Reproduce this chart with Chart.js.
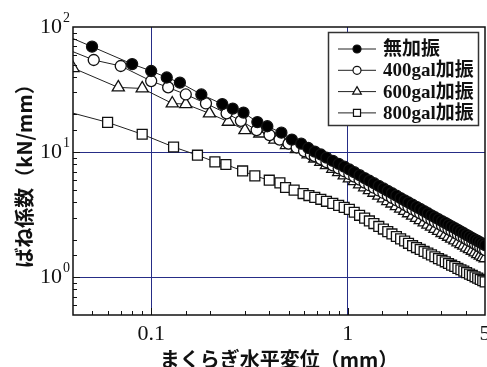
<!DOCTYPE html>
<html>
<head>
<meta charset="utf-8">
<script src="https://cdn.jsdelivr.net/npm/chart.js@4.4.1/dist/chart.umd.min.js"></script>
<style>
  html, body { margin: 0; padding: 0; background: #fff; }
</style>
</head>
<body>
<canvas id="bane" width="487" height="367"></canvas>
<script>
// ===== data =====
const seriesNames = ["無加振", "400gal加振", "600gal加振", "800gal加振"];

const xFilled = [0.03, 0.05, 0.08, 0.10, 0.12, 0.14, 0.18, 0.23, 0.26, 0.295, 0.347, 0.39, 0.46, 0.52, 0.58, 0.63,
    0.68, 0.73, 0.78, 0.84, 0.90, 0.96, 1.02, 1.08, 1.15, 1.22, 1.29, 1.36, 1.44, 1.52, 1.60, 1.68, 1.77, 1.86, 1.95,
    2.04, 2.14, 2.24, 2.34, 2.45, 2.56, 2.67, 2.78, 2.90, 3.02, 3.14, 3.26, 3.38, 3.51, 3.64, 3.77, 3.90, 4.03, 4.17,
    4.31, 4.45, 4.59, 4.73, 4.87, 5.01];
const yFilled = [98, 69.6, 50.6, 44.5, 39.5, 35.9, 28.9, 24.2, 22.3, 20.7, 17.4, 16.1, 14.3, 12.6, 11.7, 10.8,
    10.1, 9.58, 9.06, 8.53, 8.07, 7.65, 7.27, 6.92, 6.55, 6.21, 5.91, 5.65, 5.37, 5.13, 4.90, 4.70, 4.49, 4.30, 4.12,
    3.96, 3.80, 3.65, 3.52, 3.38, 3.25, 3.13, 3.02, 2.91, 2.81, 2.72, 2.63, 2.55, 2.47, 2.39, 2.32, 2.25, 2.18, 2.12,
    2.06, 2.00, 1.95, 1.90, 1.85, 1.81];

const xOpen = [0.03, 0.051, 0.070, 0.10, 0.122, 0.150, 0.19, 0.242, 0.286, 0.344, 0.40, 0.45, 0.50, 0.55, 0.60, 0.65,
    0.68, 0.73, 0.78, 0.84, 0.90, 0.96, 1.02, 1.08, 1.15, 1.22, 1.29, 1.36, 1.44, 1.52, 1.60, 1.68, 1.77, 1.86, 1.95,
    2.04, 2.14, 2.24, 2.34, 2.45, 2.56, 2.67, 2.78, 2.90, 3.02, 3.14, 3.26, 3.38, 3.51, 3.64, 3.77, 3.90, 4.03, 4.17,
    4.31, 4.45, 4.59, 4.73, 4.87, 5.01];
const yOpen = [76, 54.5, 48.8, 37.0, 32.9, 28.9, 24.5, 20.4, 17.8, 15.0, 13.7, 12.6, 11.7, 10.9, 10.2, 9.6,
    9.29, 8.81, 8.34, 7.85, 7.42, 7.04, 6.69, 6.37, 6.03, 5.71, 5.44, 5.20, 4.94, 4.72, 4.51, 4.32, 4.13, 3.96, 3.79,
    3.64, 3.50, 3.36, 3.24, 3.11, 2.99, 2.88, 2.78, 2.68, 2.59, 2.50, 2.42, 2.35, 2.27, 2.20, 2.13, 2.07, 2.01, 1.95,
    1.90, 1.84, 1.79, 1.74, 1.69, 1.65];

const xTri = [0.04, 0.068, 0.090, 0.128, 0.150, 0.198, 0.247, 0.30, 0.357, 0.426, 0.488, 0.549, 0.629,
    0.68, 0.73, 0.78, 0.84, 0.90, 0.96, 1.02, 1.08, 1.15, 1.22, 1.29, 1.36, 1.44, 1.52, 1.60, 1.68, 1.77, 1.86, 1.95,
    2.04, 2.14, 2.24, 2.34, 2.45, 2.56, 2.67, 2.78, 2.90, 3.02, 3.14, 3.26, 3.38, 3.51, 3.64, 3.77, 3.90, 4.03, 4.17,
    4.31, 4.45, 4.59, 4.73, 4.87, 5.01];
const yTri = [47, 32.9, 32.3, 24.5, 24.2, 20.4, 17.5, 15.0, 14.1, 12.6, 11.4, 10.6, 9.6,
    8.9, 8.36, 7.87, 7.36, 6.92, 6.53, 6.18, 5.86, 5.53, 5.24, 4.97, 4.74, 4.49, 4.27, 4.07, 3.89, 3.71, 3.54, 3.39,
    3.25, 3.11, 2.98, 2.86, 2.75, 2.64, 2.54, 2.44, 2.35, 2.26, 2.18, 2.11, 2.04, 1.97, 1.90, 1.84, 1.79, 1.73, 1.68,
    1.63, 1.58, 1.53, 1.49, 1.45, 1.42];

const xSq = [0.02, 0.060, 0.090, 0.130, 0.172, 0.211, 0.240, 0.292, 0.337, 0.399, 0.452, 0.483, 0.534, 0.593, 0.635,
    0.68, 0.73, 0.78, 0.84, 0.90, 0.96, 1.02, 1.08, 1.15, 1.22, 1.29, 1.36, 1.44, 1.52, 1.60, 1.68, 1.77, 1.86, 1.95,
    2.04, 2.14, 2.24, 2.34, 2.45, 2.56, 2.67, 2.78, 2.90, 3.02, 3.14, 3.26, 3.38, 3.51, 3.64, 3.77, 3.90, 4.03, 4.17,
    4.31, 4.45, 4.59, 4.73, 4.87, 5.01];
const ySq = [27.4, 17.3, 13.9, 11.0, 9.46, 8.37, 7.97, 7.08, 6.46, 5.97, 5.68, 5.22, 4.97, 4.67, 4.50,
    4.35, 4.20, 4.05, 3.90, 3.76, 3.62, 3.49, 3.31, 3.13, 2.97, 2.82, 2.69, 2.55, 2.43, 2.32, 2.22, 2.12, 2.03, 1.95,
    1.87, 1.79, 1.73, 1.67, 1.61, 1.56, 1.51, 1.46, 1.41, 1.37, 1.33, 1.29, 1.25, 1.22, 1.18, 1.15, 1.12, 1.09, 1.06,
    1.035, 1.01, 0.986, 0.962, 0.94, 0.92];

const xLabelTicks = [0.1, 1, 5];
const yLabelTicks = [1, 10, 100];
const yLabelExps = ["0", "1", "2"];

// ===== helpers =====
const navy = "#262d86";
const near = (a, b) => Math.abs(a - b) < 1e-9 * Math.max(1, b);
const isDecade = v => Math.abs(Math.log10(v) - Math.round(Math.log10(v))) < 1e-9;
const gridAt = v => near(v, 0.1) || near(v, 1) || near(v, 10);
const pts = (xs, ys) => xs.map((x, i) => ({x, y: ys[i]}));

const serif = "'Liberation Serif', 'DejaVu Serif', serif";
const jp = "'Noto Sans CJK JP', 'Noto Sans', sans-serif";

function serie(i, xs, ys, style, radius, fill) {
    return {
        label: seriesNames[i],
        data: pts(xs, ys),
        showLine: true,
        borderColor: "#222",
        borderWidth: 1,
        pointStyle: style,
        pointRadius: radius,
        pointBackgroundColor: fill,
        pointBorderColor: "#111",
        pointBorderWidth: 1.3
    };
}

// ticks hacia adentro + marco + etiquetas de ejes
const marco = {
    id: "marco",
    afterDatasetsDraw(chart) {
        const {ctx, chartArea: a, scales: {x, y}} = chart;
        ctx.save();
        ctx.strokeStyle = "#111";
        ctx.lineWidth = 1;
        ctx.beginPath();
        x.ticks.forEach(t => {
            const px = Math.round(x.getPixelForValue(t.value)) + 0.5;
            if (px <= a.left + 1 || px >= a.right - 1) return;
            const len = isDecade(t.value) ? 7 : 4;
            ctx.moveTo(px, a.bottom);
            ctx.lineTo(px, a.bottom - len);
        });
        y.ticks.forEach(t => {
            const py = Math.round(y.getPixelForValue(t.value)) + 0.5;
            if (py <= a.top + 1 || py >= a.bottom - 1) return;
            const len = isDecade(t.value) ? 7 : 4;
            ctx.moveTo(a.left, py);
            ctx.lineTo(a.left + len, py);
        });
        ctx.stroke();
        ctx.lineWidth = 1.5;
        ctx.strokeRect(a.left, a.top, a.right - a.left, a.bottom - a.top);

        // etiquetas
        ctx.fillStyle = "#111";
        ctx.textBaseline = "alphabetic";
        ctx.font = "22px " + serif;
        ctx.textAlign = "center";
        xLabelTicks.forEach(v => ctx.fillText(String(v), x.getPixelForValue(v), a.bottom + 25));
        yLabelTicks.forEach((v, i) => {
            const py = y.getPixelForValue(v);
            ctx.font = "14px " + serif;
            const ew = ctx.measureText(yLabelExps[i]).width;
            ctx.textAlign = "right";
            ctx.fillText(yLabelExps[i], a.left - 3, py - 5);
            ctx.font = "22px " + serif;
            ctx.fillText("10", a.left - 4 - ew, py + 6);
        });
        ctx.restore();
    }
};

// leyenda en recuadro
const leyenda = {
    id: "leyenda",
    afterDraw(chart) {
        const ctx = chart.ctx;
        const box = {x: 328.5, y: 32.5, w: 150, h: 93};
        ctx.save();
        ctx.fillStyle = "#fff";
        ctx.fillRect(box.x, box.y, box.w, box.h);
        ctx.strokeStyle = "#333";
        ctx.lineWidth = 1.5;
        ctx.strokeRect(box.x, box.y, box.w, box.h);
        chart.data.datasets.forEach((ds, i) => {
            const cy = 49 + i * 21.3;
            ctx.strokeStyle = "#222";
            ctx.lineWidth = 1;
            ctx.beginPath();
            ctx.moveTo(338, cy);
            ctx.lineTo(376, cy);
            ctx.stroke();
            ctx.fillStyle = ds.pointBackgroundColor;
            ctx.strokeStyle = "#111";
            ctx.lineWidth = 1.2;
            Chart.helpers.drawPoint(ctx, {
                pointStyle: ds.pointStyle,
                radius: ds.pointStyle === "circle" ? 4 : 5,
                rotation: 0,
                borderWidth: 1.2
            }, 357, cy);
            ctx.fillStyle = "#111";
            ctx.font = "bold 19px 'Liberation Serif', " + jp;
            ctx.textBaseline = "middle";
            ctx.textAlign = "left";
            ctx.fillText(ds.label, 383, cy + 1);
        });
        ctx.restore();
    }
};

new Chart(document.getElementById("bane"), {
    type: "scatter",
    data: {
        datasets: [
            serie(0, xFilled, yFilled, "circle", 5.5, "#000"),
            serie(1, xOpen, yOpen, "circle", 5.5, "#fff"),
            serie(2, xTri, yTri, "triangle", 7, "#fff"),
            serie(3, xSq, ySq, "rect", 7, "#fff")
        ]
    },
    options: {
        responsive: false,
        animation: false,
        events: [],
        layout: {autoPadding: false, padding: {top: 27, right: 2, left: 0, bottom: 0}},
        plugins: {legend: {display: false}, tooltip: {enabled: false}},
        scales: {
            x: {
                type: "logarithmic",
                min: 0.04,
                max: 5,
                border: {display: false},
                grid: {
                    drawTicks: false,
                    color: ctx => gridAt(ctx.tick.value) ? navy : "rgba(0,0,0,0)",
                    lineWidth: 1
                },
                ticks: {display: false, autoSkip: false},
                title: {
                    display: true,
                    text: "まくらぎ水平変位（mm）",
                    color: "#111",
                    font: {family: jp, size: 20, weight: "bold", lineHeight: 1.2},
                    padding: {top: 0, bottom: -4}
                },
                afterFit(s) { s.height = 52; s.paddingLeft = 0; s.paddingRight = 0; }
            },
            y: {
                type: "logarithmic",
                min: 0.5,
                max: 100,
                border: {display: false},
                grid: {
                    drawTicks: false,
                    color: ctx => gridAt(ctx.tick.value) ? navy : "rgba(0,0,0,0)",
                    lineWidth: 1
                },
                ticks: {display: false, autoSkip: false},
                title: {
                    display: true,
                    text: "ばね係数（kN/mm）",
                    color: "#111",
                    font: {family: jp, size: 20, weight: "bold", lineHeight: 1.2},
                    padding: {top: 12, bottom: 0}
                },
                afterFit(s) { s.width = 73; s.paddingTop = 0; s.paddingBottom = 0; }
            }
        }
    },
    plugins: [marco, leyenda]
});
</script>
</body>
</html>
